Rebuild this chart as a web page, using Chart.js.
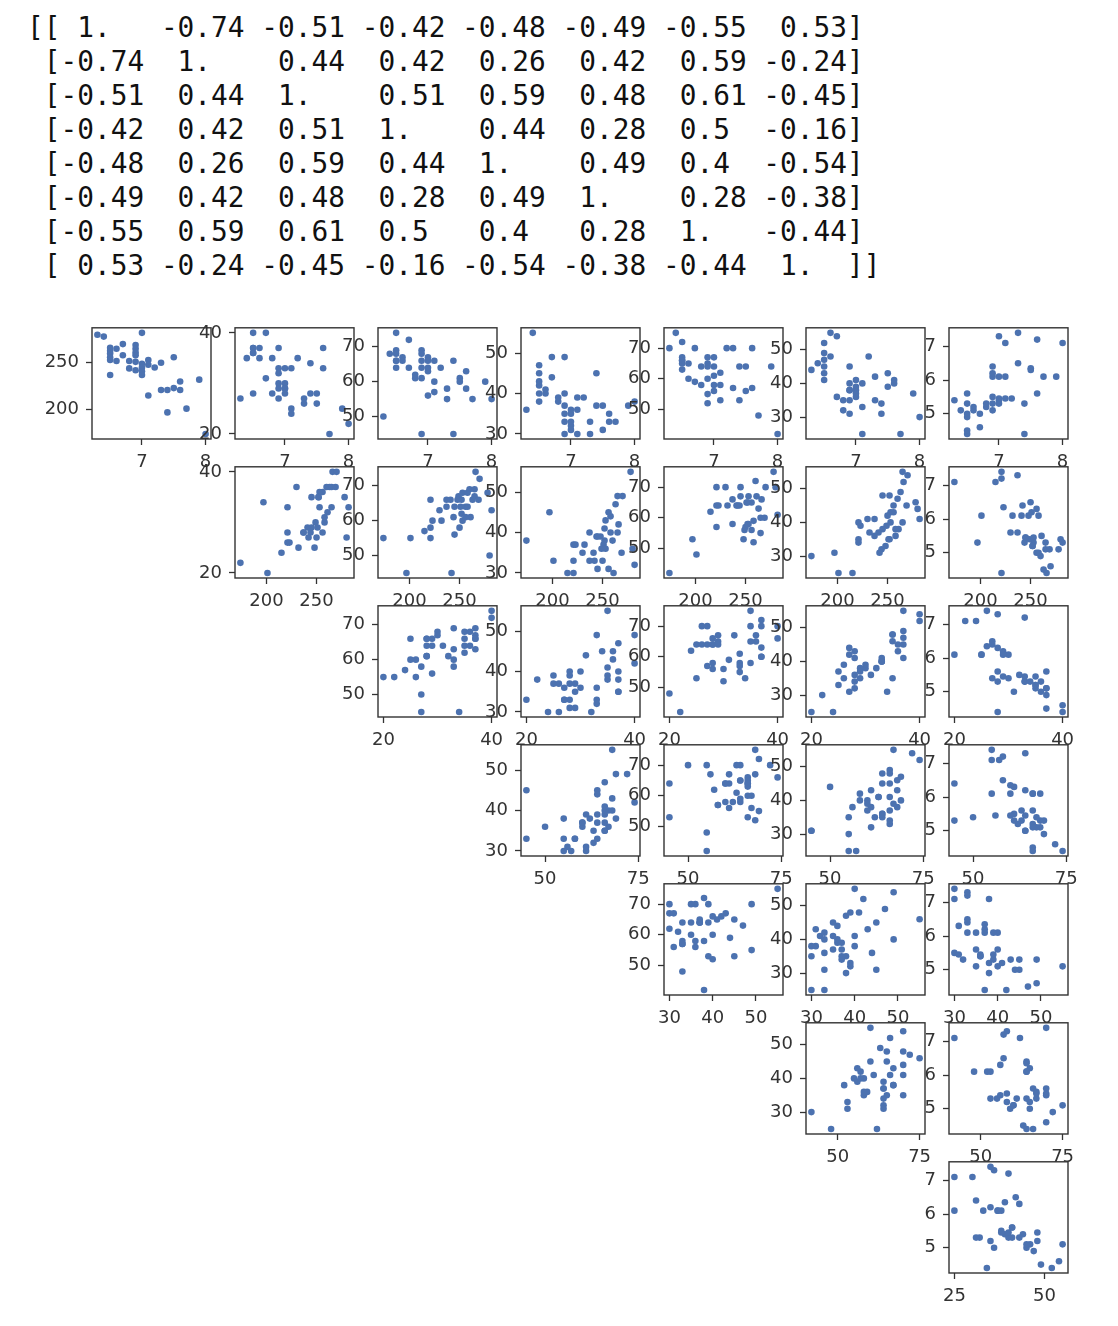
<!DOCTYPE html>
<html>
<head>
<meta charset="utf-8">
<script src="https://cdn.jsdelivr.net/npm/chart.js@4.4.1/dist/chart.umd.min.js"></script>
<style>
  html, body { margin: 0; padding: 0; background: #fff; }
  body { width: 1118px; height: 1326px; position: relative; overflow: hidden; }
  #corr { position: absolute; left: 27px; top: 11px; margin: 0; color: #111;
          font: 27.8px/34px "DejaVu Sans Mono", monospace; white-space: pre; }
  canvas { position: absolute; }
</style>
</head>
<body>
<pre id="corr"></pre>
<script>
// printed correlation matrix (text output above the grid)
const corrLines = [
  '[[ 1.   -0.74 -0.51 -0.42 -0.48 -0.49 -0.55  0.53]',
  ' [-0.74  1.    0.44  0.42  0.26  0.42  0.59 -0.24]',
  ' [-0.51  0.44  1.    0.51  0.59  0.48  0.61 -0.45]',
  ' [-0.42  0.42  0.51  1.    0.44  0.28  0.5  -0.16]',
  ' [-0.48  0.26  0.59  0.44  1.    0.49  0.4  -0.54]',
  ' [-0.49  0.42  0.48  0.28  0.49  1.    0.28 -0.38]',
  ' [-0.55  0.59  0.61  0.5   0.4   0.28  1.   -0.44]',
  ' [ 0.53 -0.24 -0.45 -0.16 -0.54 -0.38 -0.44  1.  ]]',
];

const v0 = [6.3, 6.4, 6.5, 6.5, 6.5, 6.5, 6.5, 6.5, 6.6, 6.6, 6.7, 6.7, 6.8, 6.8,
  6.9, 6.9, 6.9, 6.9, 6.9, 6.9, 7.0, 7.0, 7.0, 7.0, 7.0, 7.1, 7.1, 7.1, 7.2,
  7.3, 7.3, 7.4, 7.4, 7.5, 7.5, 7.6, 7.6, 7.7, 7.9, 8.0];
const v1 = [280, 278, 266, 263, 260, 256, 253, 237, 265, 252, 270, 258, 252, 244,
  269, 265, 261, 258, 251, 242, 282, 249, 245, 241, 237, 253, 248, 215, 245,
  250, 221, 221, 197, 256, 223, 230, 221, 201, 232, 174];
const v2 = [27, 35, 40, 37, 37, 36, 36, 28, 37, 35, 40, 31, 35, 28,
  37, 33, 32, 30, 29, 27, 33, 30, 29, 29, 28, 33, 25, 24, 35,
  27, 26, 28, 34, 28, 26, 37, 33, 20, 25, 22];
const v3 = [50, 68, 74, 66, 69, 64, 68, 66, 67, 66, 72, 64, 62, 61,
  66, 69, 61, 68, 64, 45, 63, 67, 56, 66, 64, 60, 66, 57, 64,
  58, 55, 66, 45, 61, 60, 63, 58, 55, 60, 55];
const v4 = [36, 55, 42, 47, 38, 45, 43, 40, 40, 41, 49, 44, 38, 39,
  35, 49, 30, 40, 37, 33, 32, 36, 31, 35, 33, 36, 39, 30, 39,
  33, 30, 37, 45, 31, 37, 35, 33, 33, 37, 38];
const v5 = [70, 75, 66, 63, 72, 65, 67, 66, 60, 65, 70, 59, 58, 64,
  60, 55, 67, 52, 65, 64, 61, 56, 67, 64, 58, 58, 53, 62, 70,
  57, 70, 64, 53, 56, 64, 70, 57, 48, 64, 42];
const v6 = [44, 46, 52, 49, 47, 45, 43, 41, 55, 48, 54, 36, 35, 32,
  45, 40, 38, 38, 35, 31, 41, 39, 38, 37, 36, 40, 33, 25, 48,
  42, 35, 34, 31, 43, 39, 41, 40, 25, 37, 30];
const v7 = [5.4, 5.1, 4.4, 4.5, 4.9, 5.0, 5.3, 5.6, 5.1, 5.2, 4.6, 5.0, 5.2, 5.3,
  5.1, 5.3, 5.5, 6.1, 6.2, 6.4, 5.3, 5.4, 5.45, 6.1, 7.3, 5.45, 6.1, 7.1, 5.45,
  6.5, 7.4, 4.4, 5.3, 6.3, 6.35, 5.6, 7.2, 6.1, 6.1, 7.1];

const series = [v0, v1, v2, v3, v4, v5, v6, v7];

// tick values each variable gets when used as x (rows) or y (columns)
const xTicks = [[7, 8], [200, 250], [20, 40], [50, 75], [30, 40, 50], [50, 75], [25, 50]];
const yTicks = [null, [200, 250], [20, 40], [50, 60, 70], [30, 40, 50], [50, 60, 70], [30, 40, 50], [5, 6, 7]];

document.getElementById('corr').textContent = corrLines.join('\n');

// grid geometry (plot box of row 0 / col 0 and the steps between boxes)
const BOX_L = 92.3, COL_STEP = 142.83, BOX_T = 324.3, ROW_STEP = 138.9;
const BOX_W = 119, BOX_H = 115;
const LEFT = 58, TOP = 14, RIGHT = 20, BOTTOM = 34;
const DOT = '#4c72b0', INK = '#333';
const tickFont = { family: 'DejaVu Sans', size: 18 };

// white axes patch under everything, spines on top (like matplotlib)
const frame = {
  id: 'frame',
  beforeDraw(c) {
    const a = c.chartArea, ctx = c.ctx;
    ctx.save();
    ctx.fillStyle = '#fff';
    ctx.fillRect(a.left, a.top, a.right - a.left, a.bottom - a.top);
    ctx.restore();
  },
  afterDraw(c) {
    const a = c.chartArea, ctx = c.ctx;
    ctx.save();
    ctx.strokeStyle = INK;
    ctx.lineWidth = 1.4;
    ctx.strokeRect(a.left, a.top, a.right - a.left, a.bottom - a.top);
    ctx.restore();
  },
};

function range(arr) {
  const lo = Math.min(...arr), hi = Math.max(...arr);
  const pad = (hi - lo) * 0.05;
  return [lo - pad, hi + pad];
}

function axis(ticks, arr, isX) {
  const [lo, hi] = range(arr);
  return {
    type: 'linear',
    position: isX ? 'bottom' : 'left',
    min: lo,
    max: hi,
    afterBuildTicks: (s) => { s.ticks = ticks.map((v) => ({ value: v })); },
    afterFit: (s) => { if (isX) s.height = BOTTOM; else s.width = LEFT; },
    grid: { display: true, drawOnChartArea: false, drawTicks: true, tickLength: 6, tickWidth: 1.3, tickColor: INK },
    border: { display: false },
    ticks: { autoSkip: false, maxRotation: 0, minRotation: 0, padding: 7, color: INK, font: tickFont },
  };
}

// row r: x = variable r; column c (c >= r): y = variable c + 1
for (let r = 0; r < 7; r++) {
  for (let c = r; c < 7; c++) {
    const xs = series[r], ys = series[c + 1];
    const boxL = Math.round(BOX_L + c * COL_STEP);
    const boxT = Math.round(BOX_T + r * ROW_STEP);
    const cv = document.createElement('canvas');
    const w = BOX_W + LEFT + RIGHT, h = BOX_H + TOP + BOTTOM;
    cv.width = w; cv.height = h;
    cv.style.width = w + 'px'; cv.style.height = h + 'px';
    cv.style.left = (boxL - LEFT) + 'px';
    cv.style.top = (boxT - TOP) + 'px';
    document.body.appendChild(cv);

    new Chart(cv.getContext('2d'), {
      type: 'scatter',
      data: {
        datasets: [{
          data: xs.map((x, k) => ({ x, y: ys[k] })),
          backgroundColor: DOT,
          borderWidth: 0,
          pointRadius: 3.3,
          clip: 0,
        }],
      },
      options: {
        responsive: false,
        devicePixelRatio: 1,
        animation: false,
        events: [],
        layout: { padding: { top: TOP, right: RIGHT, left: 0, bottom: 0 } },
        plugins: { legend: { display: false }, tooltip: { enabled: false } },
        scales: {
          x: axis(xTicks[r], xs, true),
          y: axis(yTicks[c + 1], ys, false),
        },
      },
      plugins: [frame],
    });
  }
}
</script>
</body>
</html>
